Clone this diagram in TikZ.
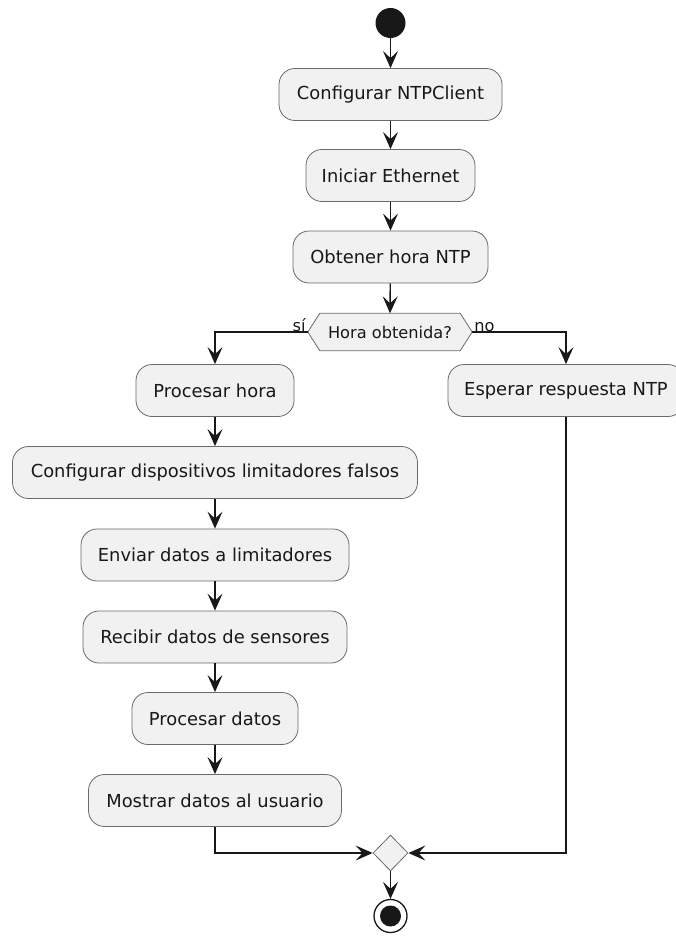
\documentclass[tikz,border=0pt]{standalone}
\usepackage{fontspec}
\setmainfont{DejaVu Sans}
\usetikzlibrary{arrows.meta,shapes.geometric}
\definecolor{boxfill}{HTML}{F1F1F1}
\definecolor{ink}{HTML}{181818}
\definecolor{edge}{HTML}{6A6A6A}
\begin{document}
\begin{tikzpicture}[x=1pt,y=-1pt,
  act/.style={draw=edge,line width=0.8pt,fill=boxfill,rounded corners=16pt,
    minimum height=52pt,inner sep=0pt,text=ink,
    font=\fontsize{17.9}{21}\selectfont},
  arr/.style={draw=ink,line width=1.4pt,
    -{Stealth[length=17pt,width=15pt,inset=7pt]}},
  lbl/.style={font=\fontsize{16.2}{19}\selectfont,text=ink,inner sep=1pt},
  merge/.style={diamond,draw=edge,line width=0.8pt,fill=boxfill,
    minimum width=35pt,minimum height=36pt,inner sep=0pt}]
\useasboundingbox (0,0) rectangle (676,936);
\clip (0,0) rectangle (676,936);

% start and main column
\node[circle,fill=ink,minimum size=30pt,inner sep=0pt] (start) at (390.5,23) {};
\node[act,minimum width=223pt] (ntp) at (390.5,94.5) {Configurar NTPClient};
\node[act,minimum width=169pt] (eth) at (390.5,175.5) {Iniciar Ethernet};
\node[act,minimum width=195pt] (hora) at (390.5,257) {Obtener hora NTP};

% decision
\node[lbl,minimum width=164pt,minimum height=37pt,inner sep=0pt] (dec) at (390,332) {Hora obtenida?};
\draw[draw=edge,line width=0.8pt,fill=boxfill]
  (dec.west) -- ([xshift=12pt]dec.north west) -- ([xshift=-12pt]dec.north east)
  -- (dec.east) -- ([xshift=-12pt]dec.south east) -- ([xshift=12pt]dec.south west) -- cycle;
\node[lbl] at (dec) {Hora obtenida?};

% branch "si"
\node[act,minimum width=158pt] (proch) at (215,390.5) {Procesar hora};
\node[act,minimum width=405pt] (conf) at (215,472.5) {Configurar dispositivos limitadores falsos};
\node[act,minimum width=268pt] (env) at (215,555) {Enviar datos a limitadores};
\node[act,minimum width=264pt] (rec) at (215,637) {Recibir datos de sensores};
\node[act,minimum width=166pt] (procd) at (215,718.5) {Procesar datos};
\node[act,minimum width=253pt] (most) at (215,800.5) {Mostrar datos al usuario};

% branch "no"
\node[act,minimum width=236pt] (esp) at (566,390.5) {Esperar respuesta NTP};

% merge and end
\node[merge] (mg) at (390.5,853) {};
\node[circle,draw=ink,line width=1.3pt,fill=white,minimum size=33pt,inner sep=0pt] (fin) at (390.5,916) {};
\node[circle,fill=ink,minimum size=21pt,inner sep=0pt] (findot) at (fin) {};

% connectors
\draw[arr] (start) -- (ntp);
\draw[arr] (ntp) -- (eth);
\draw[arr] (eth) -- (hora);
\draw[arr] (hora) -- (dec.north);
\draw[arr] (dec.west) -| (proch.north);
\draw[arr] (dec.east) -| (esp.north);
\node[lbl,anchor=south east] at ([xshift=-1pt,yshift=-1pt]dec.west) {sí};
\node[lbl,anchor=south west] at ([xshift=1pt,yshift=-1pt]dec.east) {no};
\draw[arr] (proch) -- (conf);
\draw[arr] (conf) -- (env);
\draw[arr] (env) -- (rec);
\draw[arr] (rec) -- (procd);
\draw[arr] (procd) -- (most);
\draw[arr] (most.south) |- (mg.west);
\draw[arr] (esp.south) |- (mg.east);
\draw[arr] (mg.south) -- (fin.north);
\end{tikzpicture}
\end{document}
